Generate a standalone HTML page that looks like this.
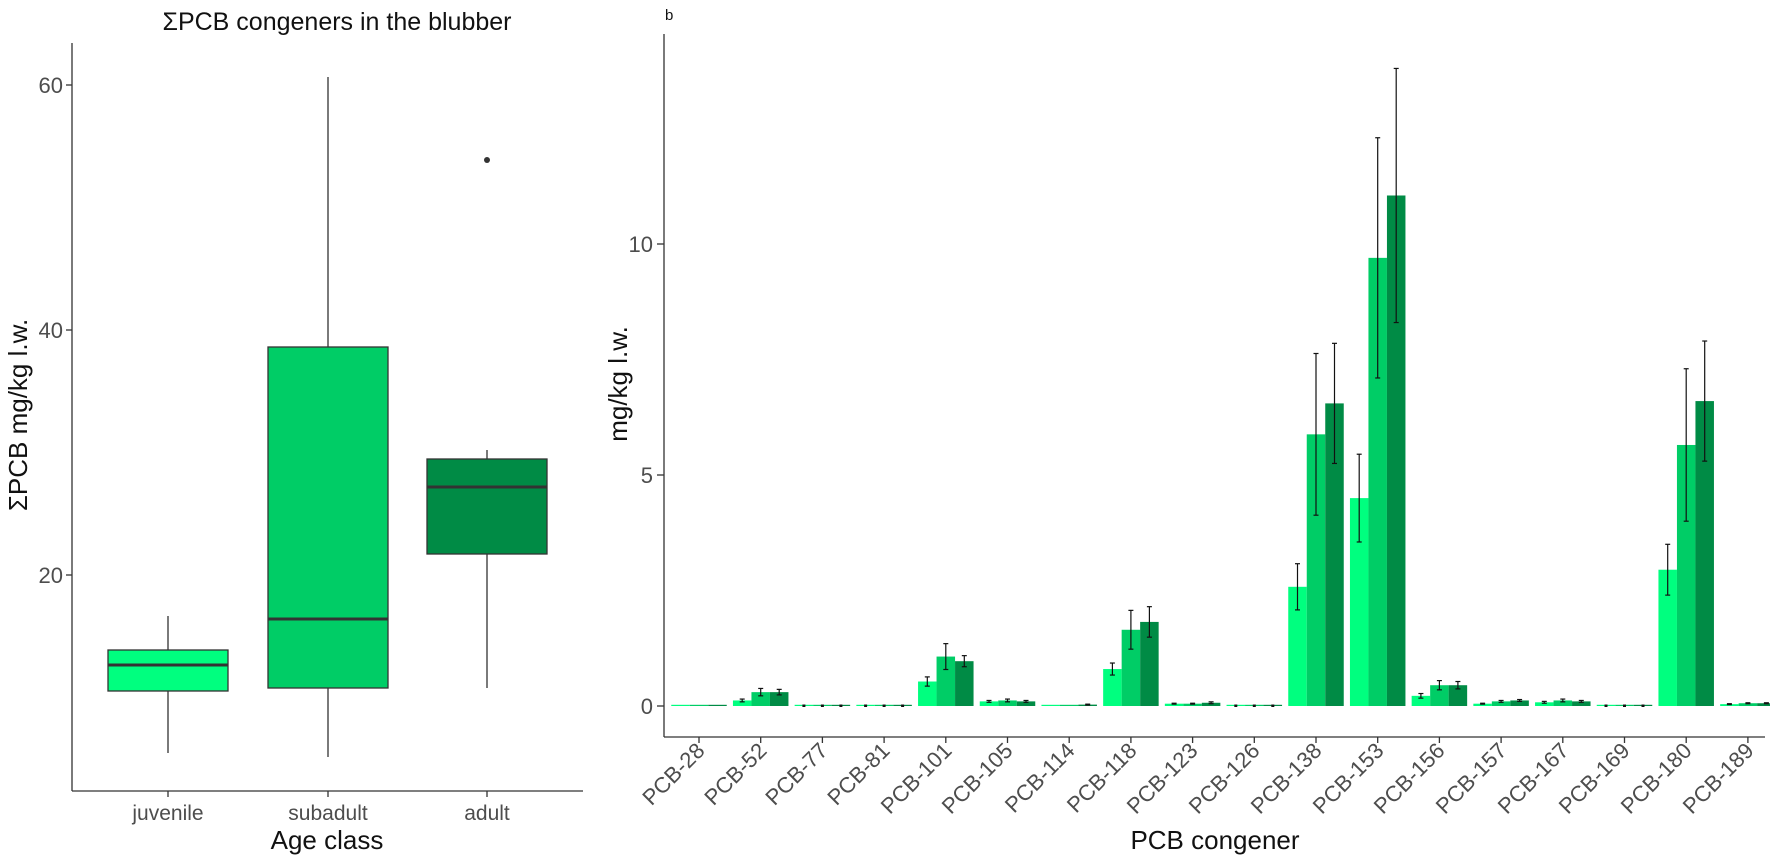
<!DOCTYPE html>
<html><head><meta charset="utf-8"><style>
html,body{margin:0;padding:0;background:#fff;}
svg{display:block;font-family:"Liberation Sans",sans-serif;}
</style></head><body>
<svg id="s" width="1770" height="862" viewBox="0 0 1770 862" xmlns="http://www.w3.org/2000/svg">
<rect width="1770" height="862" fill="#fff"/>
<!-- LEFT PLOT -->
<text x="337" y="30" font-size="25" text-anchor="middle" fill="#111">ΣPCB congeners in the blubber</text>
<line x1="72" y1="43" x2="72" y2="791" stroke="#333" stroke-width="1.3"/>
<line x1="72" y1="791" x2="583" y2="791" stroke="#333" stroke-width="1.3"/>
<g stroke="#333" stroke-width="1.3">
<line x1="66" y1="85" x2="72" y2="85"/><line x1="66" y1="330" x2="72" y2="330"/><line x1="66" y1="575" x2="72" y2="575"/>
<line x1="168" y1="791" x2="168" y2="797"/><line x1="328" y1="791" x2="328" y2="797"/><line x1="487" y1="791" x2="487" y2="797"/>
</g>
<g font-size="22" fill="#4d4d4d" text-anchor="end">
<text x="63" y="93">60</text><text x="63" y="338">40</text><text x="63" y="583">20</text>
</g>
<g font-size="21" fill="#4d4d4d" text-anchor="middle">
<text x="168" y="820">juvenile</text><text x="328" y="820">subadult</text><text x="487" y="820">adult</text>
</g>
<text x="327" y="849" font-size="26" text-anchor="middle" fill="#111">Age class</text>
<text transform="translate(27,415) rotate(-90)" font-size="26" text-anchor="middle" fill="#111">ΣPCB mg/kg l.w.</text>
<g stroke="#333" stroke-width="1.3">
<line x1="168" y1="616" x2="168" y2="753"/>
<rect x="108" y="650" width="120" height="41" fill="#00FF7F"/>
<line x1="108" y1="665" x2="228" y2="665" stroke-width="3"/>
<line x1="328" y1="77" x2="328" y2="757"/>
<rect x="268" y="347" width="120" height="341" fill="#00CD66"/>
<line x1="268" y1="619" x2="388" y2="619" stroke-width="3"/>
<line x1="487" y1="450" x2="487" y2="688"/>
<rect x="427" y="459" width="120" height="95" fill="#008B45"/>
<line x1="427" y1="487" x2="547" y2="487" stroke-width="3"/>
</g>
<circle cx="487" cy="160" r="3" fill="#333"/>
<!-- RIGHT PLOT -->
<text x="665" y="20" font-size="15" fill="#111">b</text>
<text transform="translate(627,384) rotate(-90)" font-size="26" text-anchor="middle" fill="#111">mg/kg l.w.</text>
<g font-size="22" fill="#4d4d4d" text-anchor="end">
<text x="653" y="252">10</text><text x="653" y="483">5</text><text x="653" y="714">0</text>
</g>
<g stroke="#333" stroke-width="1.3">
<line x1="657" y1="244" x2="664" y2="244"/><line x1="657" y1="475" x2="664" y2="475"/><line x1="657" y1="706" x2="664" y2="706"/>
</g>
<g id="bars"></g>
<line x1="664" y1="34" x2="664" y2="737" stroke="#333" stroke-width="1.3"/>
<line x1="664" y1="737" x2="1765" y2="737" stroke="#333" stroke-width="1.3"/>
<g id="xt" stroke="#333" stroke-width="1.3"></g>
<g font-size="22" fill="#4d4d4d" text-anchor="end">
<text transform="translate(706,752) rotate(-45)">PCB-28</text>
<text transform="translate(768,752) rotate(-45)">PCB-52</text>
<text transform="translate(829,752) rotate(-45)">PCB-77</text>
<text transform="translate(891,752) rotate(-45)">PCB-81</text>
<text transform="translate(953,752) rotate(-45)">PCB-101</text>
<text transform="translate(1014,752) rotate(-45)">PCB-105</text>
<text transform="translate(1076,752) rotate(-45)">PCB-114</text>
<text transform="translate(1138,752) rotate(-45)">PCB-118</text>
<text transform="translate(1199,752) rotate(-45)">PCB-123</text>
<text transform="translate(1261,752) rotate(-45)">PCB-126</text>
<text transform="translate(1323,752) rotate(-45)">PCB-138</text>
<text transform="translate(1385,752) rotate(-45)">PCB-153</text>
<text transform="translate(1446,752) rotate(-45)">PCB-156</text>
<text transform="translate(1508,752) rotate(-45)">PCB-157</text>
<text transform="translate(1570,752) rotate(-45)">PCB-167</text>
<text transform="translate(1631,752) rotate(-45)">PCB-169</text>
<text transform="translate(1693,752) rotate(-45)">PCB-180</text>
<text transform="translate(1755,752) rotate(-45)">PCB-189</text>
</g>
<text x="1215" y="849" font-size="26" text-anchor="middle" fill="#111">PCB congener</text>
</svg>
<script>
var NS="http://www.w3.org/2000/svg";
var d=[[0.02,0.02,0.02,0,0,0],[0.12,0.3,0.3,0.03,0.08,0.06],[0.01,0.01,0.01,0,0,0],[0.005,0.005,0.005,0,0,0],
[0.53,1.07,0.97,0.1,0.28,0.12],[0.1,0.12,0.1,0.02,0.03,0.02],[0.02,0.02,0.03,0,0,0.01],[0.8,1.65,1.82,0.13,0.42,0.33],
[0.05,0.05,0.07,0.01,0.01,0.02],[0.005,0.005,0.005,0,0,0],[2.58,5.88,6.55,0.5,1.75,1.3],[4.5,9.7,11.05,0.95,2.6,2.75],
[0.22,0.45,0.45,0.05,0.1,0.08],[0.05,0.1,0.12,0.01,0.02,0.02],[0.08,0.12,0.1,0.02,0.03,0.02],[0.005,0.005,0.005,0,0,0],
[2.95,5.65,6.6,0.55,1.65,1.3],[0.04,0.06,0.06,0.01,0.01,0.01]];
var cols=["#00FF7F","#00CD66","#008B45"];
var g=document.getElementById("bars"),xt=document.getElementById("xt");
function el(t,a,p){var e=document.createElementNS(NS,t);for(var k in a)e.setAttribute(k,a[k]);p.appendChild(e);return e;}
function Y(v){return 706-46.2*v;}
for(var i=0;i<18;i++){var cx=699+61.7*i;
el("line",{x1:cx,y1:737,x2:cx,y2:743},xt);
for(var j=0;j<3;j++){var v=d[i][j],e=d[i][j+3],x=cx-27.75+18.5*j;
var h=Math.max(46.2*v,1.2);
el("rect",{x:x,y:706-h,width:18.5,height:h,fill:cols[j]},g);
var bx=x+9.25;
if(e>0){el("line",{x1:bx,y1:Y(v+e),x2:bx,y2:Y(v-e),stroke:"#111","stroke-width":1.2},g);
el("line",{x1:bx-2.5,y1:Y(v+e),x2:bx+2.5,y2:Y(v+e),stroke:"#111","stroke-width":1.2},g);
el("line",{x1:bx-2.5,y1:Y(v-e),x2:bx+2.5,y2:Y(v-e),stroke:"#111","stroke-width":1.2},g);}
else if(v<0.015){el("rect",{x:bx-1.5,y:704.5,width:3,height:2.5,fill:"#111"},g);}
}}
</script>
</body></html>
